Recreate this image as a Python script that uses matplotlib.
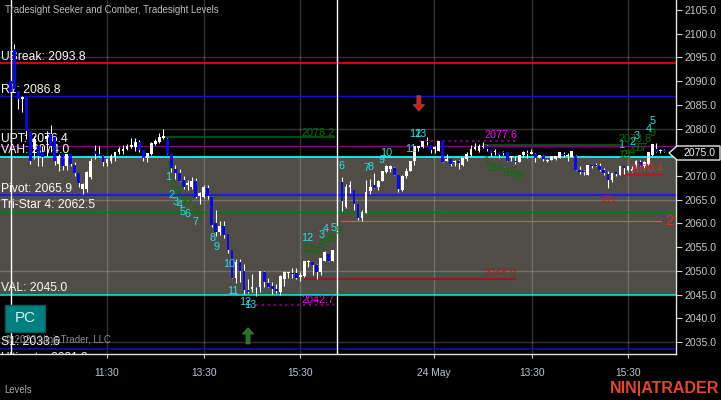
import numpy as np
import matplotlib
matplotlib.use("Agg")
import matplotlib.pyplot as plt
from matplotlib.patches import Polygon, Rectangle

plt.rcParams['font.family'] = ['Liberation Sans', 'DejaVu Sans']

# -------------------------
# 5 minute bars, two sessions
# -------------------------
opens = [
    2090.1, 2096.8, 2088.0, 2086.3, 2086.7, 2079.5, 2075.7, 2076.4, 2075.1, 2077.9,
    2078.9, 2078.3, 2072.6, 2074.7, 2072.2, 2074.7, 2072.4, 2070.7, 2067.3, 2067.3,
    2069.8, 2075.3, 2074.7, 2074.3, 2072.8, 2073.2, 2074.1, 2075.1, 2075.3, 2075.7,
    2076.2, 2076.2, 2077.2, 2075.5, 2073.8, 2074.7, 2076.8, 2077.2, 2078.1, 2077.9,
    2074.7, 2071.5, 2070.7, 2069.2, 2068.2, 2067.7, 2069.0, 2065.8, 2065.6, 2067.5,
    2065.6, 2060.0, 2058.2, 2059.5, 2057.8, 2054.4, 2048.5, 2051.9, 2050.0, 2046.0,
    2046.2, 2046.5, 2046.7, 2049.8, 2047.5, 2046.9, 2046.2, 2045.6, 2048.3, 2049.6,
    2049.6, 2049.6, 2048.8, 2049.0, 2051.9, 2051.9, 2051.3, 2049.8, 2052.1, 2053.6, 2052.1,
    2068.8, 2063.5, 2067.7, 2067.1, 2064.0, 2061.2, 2062.3, 2066.9, 2068.0, 2067.7,
    2069.0, 2070.9, 2071.5, 2071.7, 2070.3, 2067.1, 2070.1, 2071.1, 2073.2, 2076.0,
    2076.2, 2077.4, 2076.6, 2075.7, 2075.3, 2077.4, 2073.2, 2073.6, 2073.0, 2073.2,
    2072.4, 2073.6, 2074.5, 2075.7, 2075.3, 2076.2, 2076.4, 2075.7, 2075.1, 2074.9,
    2075.1, 2075.1, 2074.1, 2073.2, 2073.0, 2074.5, 2074.9, 2074.7, 2074.7, 2074.1,
    2074.3, 2073.2, 2073.4, 2073.6, 2073.8, 2074.7, 2074.3, 2074.1, 2074.3, 2071.3,
    2071.1, 2070.3, 2072.4, 2072.4, 2072.2, 2071.3, 2070.5, 2069.2, 2070.9, 2070.3,
    2072.0, 2071.3, 2071.1, 2072.0, 2073.0, 2072.2, 2072.6, 2074.5, 2075.7, 2075.3, 2075.5,
]
highs = [
    2090.1, 2097.9, 2088.0, 2086.9, 2086.7, 2079.5, 2078.5, 2076.4, 2076.4, 2079.5,
    2080.8, 2078.3, 2074.7, 2074.7, 2074.7, 2074.7, 2073.0, 2070.7, 2068.6, 2071.1,
    2073.8, 2076.6, 2076.4, 2074.5, 2073.6, 2074.7, 2075.1, 2076.2, 2076.6, 2076.8,
    2078.1, 2078.1, 2077.6, 2075.5, 2074.9, 2077.1, 2077.9, 2079.1, 2079.8, 2078.1,
    2074.7, 2072.4, 2071.5, 2070.1, 2069.2, 2069.8, 2069.6, 2066.7, 2068.0, 2068.0,
    2065.6, 2062.9, 2060.6, 2060.6, 2057.8, 2054.4, 2052.6, 2052.6, 2051.5, 2048.3,
    2049.4, 2046.7, 2050.0, 2050.0, 2048.5, 2047.7, 2047.3, 2049.2, 2050.0, 2049.8,
    2050.7, 2050.7, 2049.8, 2052.1, 2052.3, 2051.9, 2051.5, 2052.8, 2054.2, 2053.6, 2054.4,
    2069.8, 2068.4, 2069.0, 2067.1, 2064.0, 2062.9, 2069.2, 2069.4, 2070.7, 2069.2,
    2071.1, 2072.4, 2072.4, 2071.9, 2070.3, 2070.3, 2071.7, 2073.2, 2076.4, 2076.4,
    2077.4, 2078.3, 2076.6, 2076.4, 2077.4, 2077.4, 2074.7, 2073.6, 2073.4, 2073.4,
    2073.8, 2075.1, 2076.6, 2077.0, 2076.8, 2077.2, 2076.6, 2075.7, 2075.7, 2074.9,
    2075.3, 2075.1, 2074.3, 2074.3, 2074.5, 2075.3, 2075.5, 2075.7, 2074.9, 2074.5,
    2074.5, 2073.6, 2074.3, 2074.3, 2075.1, 2075.1, 2074.9, 2075.3, 2074.5, 2072.0,
    2071.3, 2072.4, 2072.4, 2072.8, 2072.8, 2071.7, 2071.1, 2070.7, 2070.9, 2072.0,
    2072.2, 2072.0, 2072.0, 2073.4, 2073.4, 2073.2, 2075.1, 2076.8, 2077.0, 2075.7, 2075.7,
]
lows = [
    2087.8, 2088.4, 2084.2, 2083.5, 2077.9, 2072.6, 2073.6, 2072.2, 2072.2, 2074.3,
    2075.1, 2072.4, 2071.1, 2071.3, 2071.3, 2072.0, 2070.1, 2067.7, 2066.2, 2066.7,
    2069.4, 2073.6, 2074.1, 2072.2, 2072.0, 2072.8, 2073.2, 2074.7, 2074.7, 2075.5,
    2076.0, 2075.3, 2075.1, 2073.2, 2073.0, 2074.5, 2076.6, 2077.0, 2077.9, 2074.7,
    2070.9, 2069.4, 2069.0, 2067.3, 2067.1, 2067.3, 2065.4, 2064.0, 2065.4, 2065.2,
    2059.3, 2057.4, 2057.6, 2057.0, 2053.8, 2048.5, 2047.5, 2047.7, 2045.2, 2045.4,
    2045.6, 2044.8, 2045.6, 2046.7, 2046.5, 2045.2, 2045.4, 2045.0, 2046.9, 2048.5,
    2048.5, 2048.3, 2047.9, 2048.8, 2050.9, 2049.2, 2048.3, 2049.2, 2052.0, 2052.1, 2052.1,
    2062.7, 2063.3, 2066.5, 2062.9, 2060.8, 2060.6, 2062.3, 2066.2, 2067.5, 2067.1,
    2069.0, 2070.7, 2070.9, 2070.3, 2066.7, 2066.9, 2069.6, 2071.1, 2072.4, 2075.3,
    2076.0, 2076.6, 2074.9, 2074.9, 2075.3, 2073.0, 2073.2, 2072.0, 2072.0, 2071.5,
    2072.2, 2073.2, 2074.3, 2075.5, 2075.0, 2076.0, 2075.3, 2074.3, 2074.5, 2073.8,
    2074.5, 2073.2, 2073.2, 2072.6, 2073.0, 2074.1, 2073.8, 2074.7, 2073.0, 2073.8,
    2073.2, 2073.0, 2073.4, 2073.4, 2073.8, 2074.1, 2073.2, 2074.1, 2071.3, 2070.5,
    2070.3, 2070.3, 2071.7, 2072.0, 2071.1, 2070.3, 2067.5, 2068.8, 2070.1, 2070.3,
    2070.5, 2071.1, 2070.9, 2071.7, 2072.0, 2071.7, 2072.4, 2074.3, 2075.0, 2074.9, 2075.0,
]
closes = [
    2087.8, 2088.4, 2086.3, 2086.7, 2079.4, 2073.2, 2077.9, 2074.3, 2074.1, 2078.5,
    2076.4, 2073.2, 2074.3, 2072.2, 2074.7, 2072.6, 2070.7, 2068.6, 2068.4, 2070.9,
    2073.2, 2074.7, 2074.3, 2073.0, 2073.6, 2074.3, 2075.1, 2075.7, 2075.7, 2076.4,
    2076.6, 2077.2, 2075.5, 2073.8, 2074.9, 2077.0, 2077.4, 2078.3, 2078.5, 2074.7,
    2071.7, 2070.7, 2069.0, 2067.7, 2068.6, 2069.0, 2065.6, 2066.5, 2067.7, 2065.8,
    2059.7, 2058.2, 2059.5, 2057.6, 2054.4, 2048.5, 2051.9, 2050.0, 2046.0, 2045.6,
    2046.7, 2046.7, 2050.0, 2047.7, 2046.7, 2046.2, 2045.8, 2049.0, 2049.8, 2049.8,
    2049.4, 2048.5, 2049.2, 2052.1, 2052.1, 2051.3, 2049.8, 2052.8, 2054.0, 2052.1, 2054.4,
    2064.8, 2067.7, 2068.2, 2064.0, 2061.2, 2062.5, 2066.7, 2067.7, 2067.5, 2069.0,
    2071.1, 2072.0, 2072.0, 2070.3, 2067.3, 2070.1, 2071.1, 2073.2, 2076.4, 2076.4,
    2077.4, 2077.2, 2075.5, 2076.2, 2077.4, 2073.0, 2073.6, 2072.6, 2073.2, 2072.8,
    2073.8, 2074.7, 2075.7, 2076.2, 2076.4, 2076.4, 2075.7, 2074.9, 2075.3, 2074.5,
    2074.9, 2073.2, 2074.3, 2073.0, 2074.5, 2075.1, 2074.7, 2075.1, 2073.8, 2074.5,
    2073.6, 2073.4, 2074.3, 2074.3, 2075.1, 2074.5, 2074.5, 2075.3, 2071.3, 2070.9,
    2070.9, 2072.4, 2072.0, 2072.2, 2071.3, 2070.7, 2069.2, 2070.7, 2070.5, 2072.0,
    2071.7, 2072.0, 2071.5, 2073.2, 2072.2, 2073.0, 2075.1, 2076.8, 2075.1, 2075.5, 2075.1,
]
last_price = 2075.0
session_one = np.arange(2, 83)
session_two = np.arange(84, 165) + 0.3
bar_x = np.r_[session_one, session_two]
session_breaks = [2.2, 83.1]

# -------------------------
# Levels
# -------------------------
level_names = ["UBreak", "R1", "UPT", "VAH", "Pivot", "Tri-Star 4", "VAL", "S1"]
level_values = [2093.8, 2086.8, 2076.4, 2074.0, 2065.9, 2062.5, 2045.0, 2033.6]
level_colors = ["#ff0000", "#1010c8", "#800080", "#00ffff", "#1818f8", "#008000", "#00f0f0", "#1010c8"]
level_widths = [1.2, 1.0, 1.0, 1.3, 1.5, 1.0, 1.1, 1.1]

# -------------------------
# Seeker / Comber counts
# -------------------------
cyan_labels = ["1", "2", "3", "4", "5", "6", "7", "8", "9", "10", "11", "12", "13",
               "12", "3", "4", "5", "6", "7", "8", "9", "10", "11", "12", "13",
               "1", "2", "3", "4", "5"]
cyan_x = [41.1, 42.1, 43.1, 44.1, 44.9, 46.0, 48.0, 52.2, 53.2, 56.3, 57.2, 60.2, 61.5,
          75.7, 79.3, 80.3, 82.2, 84.2, 90.3, 91.3, 94.2, 95.2, 101.3, 102.4, 103.7,
          153.5, 156.4, 157.4, 160.5, 161.4]
cyan_y = [2069.8, 2065.9, 2064.5, 2063.9, 2062.5, 2062.0, 2060.4, 2056.9, 2055.0, 2051.4, 2045.8, 2043.4, 2042.7,
          2057.0, 2057.5, 2058.9, 2059.1, 2072.2, 2071.7, 2071.9, 2073.4, 2074.8, 2075.7, 2078.9, 2078.9,
          2076.6, 2077.2, 2078.4, 2079.8, 2081.5]

green_labels = ["1", "2", "3", "4", "5", "6", "7", "8", "9"] * 3 + ["1", "2", "3", "4", "5", "6", "7", "9"]
green_x = [41.2, 42.2, 43.1, 43.9, 44.9, 45.9, 46.8, 48.0, 48.9,
           75.1, 76.2, 77.4, 78.2, 79.3, 80.4, 81.2, 82.3, 83.4,
           120.2, 121.2, 122.0, 123.4, 125.0, 125.8, 126.7, 127.5, 128.5,
           153.7, 154.5, 155.2, 156.2, 157.2, 158.1, 159.1, 161.4]
green_y = [2072.2, 2068.4, 2066.7, 2066.8, 2064.8, 2064.8, 2064.8, 2063.1, 2061.6,
           2054.7, 2054.7, 2054.2, 2054.2, 2055.4, 2056.6, 2056.6, 2056.9, 2058.3,
           2073.2, 2071.7, 2071.7, 2071.7, 2070.6, 2070.6, 2070.8, 2070.1, 2070.1,
           2074.5, 2074.5, 2074.5, 2075.0, 2075.9, 2075.9, 2075.9, 2079.1]

# level segments: start bar, end bar, price
seg_start = [40.6, 119.3, 103.4, 61.5, 75.1, 153.5, 84.1]
seg_end = [82.3, 153.5, 127.5, 82.3, 127.2, 163.5, 163.5]
seg_price = [2078.2, 2076.6, 2077.4, 2042.7, 2048.3, 2070.3, 2060.6]
seg_color = ["#0a4a0a", "#0a4a0a", "#7a007a", "#7a007a", "#901c1c", "#a82020", "#d05a50"]
seg_style = ["-", "-", ":", ":", "-", "-", "-"]
seg_width = [1.5, 1.5, 1.6, 1.6, 1.5, 1.5, 0.9]

value_labels = ["2078.2", "2077.6", "2042.7", "2048.0", "2070.4", "2073.8"]
value_x = [78.4, 123.8, 78.4, 123.5, 159.9, 157.0]
value_y = [2079.1, 2078.7, 2043.9, 2049.6, 2071.5, 2077.7]
value_colors = ["#0c6e0c", "#ff00ff", "#ff00ff", "#a81c1c", "#f02428", "#0c6e0c"]

xtick_pos = [26, 50, 74, 107.2, 131.4, 155.3]
xtick_labels = ["11:30", "13:30", "15:30", "24 May", "13:30", "15:30"]
ytick_values = np.arange(2035, 2110, 5)
grid_prices = [2035, 2050, 2065, 2080, 2095]

# -------------------------
# Plot
# -------------------------
fig = plt.figure(figsize=(7.21, 4.0), dpi=100, facecolor="black")
ax = fig.add_axes([0, 46 / 400, 676 / 721, 354 / 400], facecolor="black")
ax.set_xlim(-0.546, 167.2)
ax.set_ylim(2032.47, 2107.1)

# value area
ax.axhspan(level_values[6], level_values[3], color="#4f4d46", lw=0, zorder=1)

# grid on top of the value area
for p in grid_prices:
    ax.axhline(p, color="white", alpha=0.2, lw=1, zorder=2)
for t in xtick_pos:
    ax.axvline(t, color="white", alpha=0.2, lw=1, zorder=2)

for v, col, w in zip(level_values, level_colors, level_widths):
    ax.axhline(v, color=col, lw=w, zorder=3)

for s, e, p, col, st, w in zip(seg_start, seg_end, seg_price, seg_color, seg_style, seg_width):
    ax.plot([s, e], [p, p], color=col, ls=st, lw=w, zorder=3)

for b in session_breaks:
    ax.axvline(b, color="white", lw=1.0, zorder=4)

# level text goes under the candles
for n, v in zip(level_names, level_values):
    ax.annotate(f"{n}: {v:.1f}", (0, v), xycoords=("axes fraction", "data"), xytext=(0.8, 4.7),
                textcoords="offset points", color="#f8f8f4", fontsize=8.7, va="center", zorder=5)
# the next level down is cut off by the axis
ax.text(0.0015, 2031.6, "Ultimate: 2031.2", color="#f4f4f0", fontsize=8.6, va="center", zorder=5, clip_on=True,
        transform=ax.get_yaxis_transform())

# copyright and caption inside the panel
ax.text(5 / 676, 2035.5, "\u00a9 2023 NinjaTrader, LLC", color="#8c8c8c", fontsize=6.9, va="center",
        transform=ax.get_yaxis_transform(), zorder=5)
ax.text(5 / 676, 2105.0, "Tradesight Seeker and Comber, Tradesight Levels", color="#bcbcbc", fontsize=6.9,
        va="center", transform=ax.get_yaxis_transform(), zorder=5)

# candles
o = np.array(opens)
h = np.array(highs)
l = np.array(lows)
c = np.array(closes)
ax.vlines(bar_x, l, h, color="white", lw=0.75, zorder=6)
colors = ["white" if cc >= oo else "#0808f0" for oo, cc in zip(o, c)]
ax.bar(bar_x, np.abs(c - o), bottom=np.minimum(o, c), width=0.68, color=colors, lw=0, zorder=7)

for t, x, y in zip(green_labels, green_x, green_y):
    ax.text(x, y, t, color="#0c6e0c", fontsize=7.8, ha="center", va="center", zorder=8)
for t, x, y in zip(cyan_labels, cyan_x, cyan_y):
    ax.text(x, y, t, color="#22e4e4", fontsize=7.8, ha="center", va="center", zorder=9)
for t, x, y, col in zip(value_labels, value_x, value_y, value_colors):
    ax.text(x, y, t, color=col, fontsize=7.8, ha="center", va="center", zorder=9)

ax.text(165.6, 2060.6, "2", color="#f02428", fontsize=11, ha="center", va="center", zorder=9)
ax.text(150.3, 2065.0, "(R)", color="#b82020", fontsize=7.8, ha="center", va="center", zorder=9)

# signal arrows
ax.annotate("", xy=(103.4, 2083.7), xytext=(103.4, 2086.9),
            arrowprops=dict(width=2.8, headwidth=8, headlength=4.5, fc="#f01010", ec="#666666", lw=0.6), zorder=9)
ax.annotate("", xy=(61.0, 2038.0), xytext=(61.0, 2034.6),
            arrowprops=dict(width=2.8, headwidth=8, headlength=4.5, fc="#0c800c", ec="#666666", lw=0.6), zorder=9)

# PC button
ax.add_patch(Rectangle((5 / 721, 68 / 400), 40 / 721, 27 / 400, transform=fig.transFigure, fc="#008080",
                       ec="#0a5a5a", lw=1, zorder=10))
fig.text(25 / 721, 81.5 / 400, "PC", color="#d8f0f0", fontsize=11, ha="center", va="center", zorder=11)

# axes
for side in ["top", "left"]:
    ax.spines[side].set_visible(False)
for side in ["right", "bottom"]:
    ax.spines[side].set_color("#e0e0e0")
    ax.spines[side].set_linewidth(1)
    ax.spines[side].set_zorder(12)
ax.yaxis.tick_right()
ax.set_yticks(ytick_values)
ax.set_yticklabels([f"{v:.1f}" for v in ytick_values])
ax.set_xticks(xtick_pos)
ax.set_xticklabels(xtick_labels)
ax.tick_params(axis="y", colors="#d0d0d0", labelcolor="#c8c8c8", length=4, width=0.8, pad=2, labelsize=7.6)
ax.tick_params(axis="x", colors="#d0d0d0", labelcolor="#b8c4cc", length=3, width=0.8, pad=7, labelsize=7.4)

# current price flag
flag = [(669, 153), (677, 146), (720, 146), (720, 160), (677, 160)]
fig.add_artist(Polygon([(px / 721, 1 - py / 400) for px, py in flag], closed=True, transform=fig.transFigure,
                       fc="black", ec="#e8e8e8", lw=1, zorder=12))
fig.text(699 / 721, 1 - 153 / 400, f"{last_price:.1f}", color="#f0f0f0", fontsize=7.6, ha="center",
         va="center", zorder=13)

fig.text(4 / 721, 10 / 400, "Levels", color="#a8a8a8", fontsize=6.9, ha="left", va="center")
fig.text(719 / 721, 12 / 400, "NIN|ATRADER", color="#e8452a", fontsize=11.5, fontweight="bold", ha="right",
         va="center")

fig.savefig("out.png", dpi=100, facecolor="black")
